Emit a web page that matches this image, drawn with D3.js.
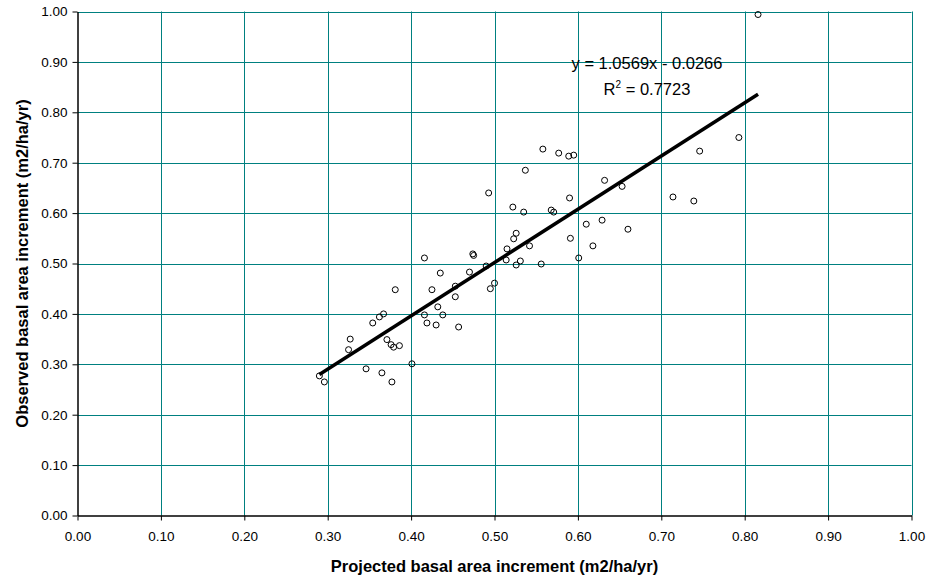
<!DOCTYPE html>
<html>
<head>
<meta charset="utf-8">
<script src="https://cdn.jsdelivr.net/npm/d3@7"></script>
<style>
  body { margin: 0; background: #fff; }
  text { font-family: "Liberation Sans", Arial, sans-serif; }
</style>
</head>
<body>
<svg width="936" height="583"></svg>
<script>
// projected vs observed basal area increment (m2/ha/yr)
var projected = [
  0.816, 0.793, 0.746, 0.632, 0.653, 0.714, 0.739, 0.629, 0.660, 0.558,
  0.577, 0.589, 0.595, 0.537, 0.493, 0.590, 0.522, 0.535, 0.568, 0.571,
  0.610, 0.526, 0.523, 0.591, 0.542, 0.618, 0.515, 0.474, 0.475, 0.514,
  0.531, 0.526, 0.556, 0.601, 0.490, 0.470, 0.435, 0.416, 0.381, 0.425,
  0.453, 0.453, 0.432, 0.416, 0.438, 0.419, 0.430, 0.457, 0.354, 0.362,
  0.367, 0.371, 0.376, 0.379, 0.386, 0.327, 0.325, 0.401, 0.290, 0.296,
  0.346, 0.365, 0.377, 0.495, 0.500
];
var observed = [
  0.994, 0.750, 0.723, 0.665, 0.653, 0.632, 0.624, 0.586, 0.568, 0.727,
  0.719, 0.713, 0.715, 0.685, 0.640, 0.630, 0.612, 0.602, 0.606, 0.602,
  0.578, 0.560, 0.549, 0.550, 0.535, 0.535, 0.529, 0.519, 0.516, 0.507,
  0.505, 0.497, 0.499, 0.511, 0.495, 0.483, 0.481, 0.511, 0.448, 0.448,
  0.455, 0.434, 0.414, 0.398, 0.398, 0.382, 0.378, 0.374, 0.382, 0.394,
  0.400, 0.349, 0.339, 0.334, 0.337, 0.350, 0.329, 0.301, 0.277, 0.265,
  0.291, 0.283, 0.265, 0.450, 0.461
];
var ticks = [0, 0.1, 0.2, 0.3, 0.4, 0.5, 0.6, 0.7, 0.8, 0.9, 1.0];
var slope = 1.0569, intercept = -0.0266, r2 = 0.7723;

var svg = d3.select("svg");
// plot box edges (note: "top" is taken by window.top)
var mLeft = 77.5, mRight = 911.5, mTop = 11.5, mBottom = 515.5;

var x = d3.scaleLinear().domain([0, 1]).range([mLeft, mRight]);
var y = d3.scaleLinear().domain([0, 1]).range([mBottom, mTop]);
var fmt = d3.format(".2f");
var teal = "#008080";

// gridlines
svg.append("g").selectAll("line")
    .data(ticks.slice(1))
    .enter().append("line")
      .attr("x1", d => Math.round(x(d)) + 0.5).attr("x2", d => Math.round(x(d)) + 0.5)
      .attr("y1", mTop).attr("y2", mBottom)
      .attr("stroke", teal).attr("stroke-width", 1);
svg.append("g").selectAll("line")
    .data(ticks.slice(1))
    .enter().append("line")
      .attr("x1", mLeft).attr("x2", mRight)
      .attr("y1", d => Math.round(y(d)) + 0.5).attr("y2", d => Math.round(y(d)) + 0.5)
      .attr("stroke", teal).attr("stroke-width", 1);

// axes
var xAxis = svg.append("g")
    .attr("transform", "translate(0," + mBottom + ")")
    .call(d3.axisBottom(x).tickValues(ticks).tickFormat(fmt)
      .tickSizeInner(5).tickSizeOuter(0).tickPadding(11));
var yAxis = svg.append("g")
    .attr("transform", "translate(" + mLeft + ",0)")
    .call(d3.axisLeft(y).tickValues(ticks).tickFormat(fmt)
      .tickSizeInner(5).tickSizeOuter(0).tickPadding(5));
[xAxis, yAxis].forEach(function(a) {
  a.select(".domain").attr("stroke", "#000").attr("stroke-width", 1.5);
  a.selectAll(".tick line").attr("stroke", "#000");
  a.selectAll(".tick text")
    .style("font-family", "Liberation Sans, Arial, sans-serif")
    .style("font-size", "13.5px").attr("fill", "#000");
});

// trendline across the data range
var xMin = d3.min(projected), xMax = d3.max(projected);
svg.append("line")
    .attr("x1", x(xMin)).attr("y1", y(slope * xMin + intercept))
    .attr("x2", x(xMax)).attr("y2", y(slope * xMax + intercept))
    .attr("stroke", "#000").attr("stroke-width", 3.5);

// points
svg.append("g").selectAll("circle")
    .data(projected)
    .enter().append("circle")
      .attr("cx", d => x(d))
      .attr("cy", (d, i) => y(observed[i]))
      .attr("r", 3)
      .attr("fill", "none")
      .attr("stroke", "#000")
      .attr("stroke-width", 1);

// equation labels
svg.append("text")
    .attr("x", 647).attr("y", 69)
    .attr("text-anchor", "middle")
    .style("font-size", "16.5px")
    .text("y = " + slope + "x - " + Math.abs(intercept).toFixed(4));
var rt = svg.append("text")
    .attr("x", 647).attr("y", 95)
    .attr("text-anchor", "middle")
    .style("font-size", "16.5px");
rt.append("tspan").text("R");
rt.append("tspan").attr("dy", -7).style("font-size", "10px").text("2");
rt.append("tspan").attr("dy", 7).text(" = " + r2);

// axis titles
svg.append("text")
    .attr("x", (mLeft + mRight) / 2).attr("y", 572)
    .attr("text-anchor", "middle")
    .style("font-size", "16.5px").style("font-weight", "bold")
    .text("Projected basal area increment (m2/ha/yr)");
svg.append("text")
    .attr("transform", "translate(28," + (mTop + mBottom) / 2 + ") rotate(-90)")
    .attr("text-anchor", "middle")
    .style("font-size", "16.5px").style("font-weight", "bold")
    .text("Observed basal area increment (m2/ha/yr)");
</script>
</body>
</html>
